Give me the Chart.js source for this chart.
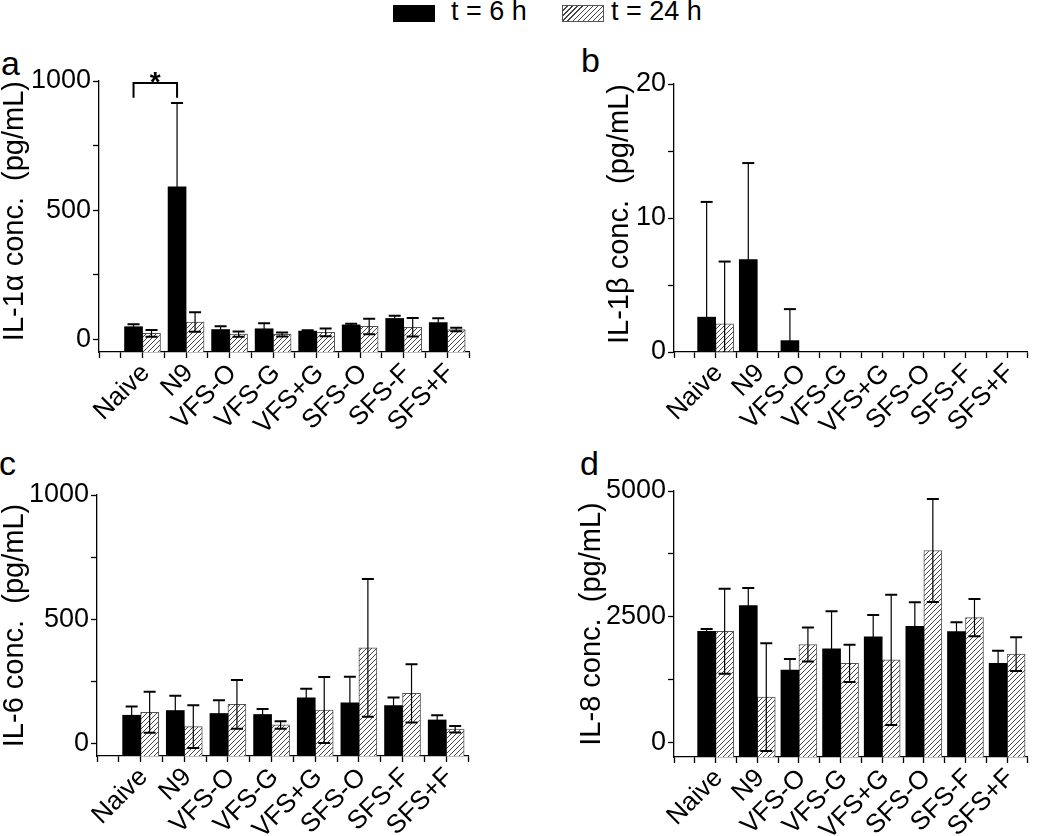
<!DOCTYPE html>
<html>
<head>
<meta charset="utf-8">
<script src="https://cdn.jsdelivr.net/npm/chart.js@4.4.1/dist/chart.umd.min.js"></script>
<style>
    body { margin: 0; background: #fff; width: 1050px; height: 836px; position: relative; overflow: hidden;
           font-family: "Liberation Sans", Arial, sans-serif; color: #000; }
    canvas { position: absolute; }
    .letra { position: absolute; font-size: 34px; line-height: 1; }
    .leg-txt { position: absolute; font-size: 27px; line-height: 1; white-space: pre; }
    .leg-box { position: absolute; width: 42px; height: 17px; box-sizing: border-box; }
</style>
</head>
<body>
<div class="leg-box" style="left:393px;top:5px;background:#000"></div>
<div class="leg-txt" style="left:451px;top:-2px">t = 6 h</div>
<div class="leg-box" style="left:562px;top:5px;border:1px solid #555;background:repeating-linear-gradient(135deg,#fff 0 2.6px,#444 2.6px 3.6px)"></div>
<div class="leg-txt" style="left:611px;top:-2px">t = 24 h</div>

<div class="letra" style="left:1px;top:46px">a</div>
<div class="letra" style="left:581px;top:43px">b</div>
<div class="letra" style="left:-1px;top:446px">c</div>
<div class="letra" style="left:580px;top:446px">d</div>

<canvas id="painelA" width="520" height="420" style="left:0;top:40px"></canvas>
<canvas id="painelB" width="530" height="420" style="left:520px;top:40px"></canvas>
<canvas id="painelC" width="520" height="376" style="left:0;top:460px"></canvas>
<canvas id="painelD" width="530" height="376" style="left:520px;top:460px"></canvas>

<script>
const categories = ['Naive', 'N9', 'VFS-O', 'VFS-G', 'VFS+G', 'SFS-O', 'SFS-F', 'SFS+F'];

// IL-1alpha
const il1a6h = [48, 590, 37, 40, 31, 55, 80, 64];
const il1a6hErr = [10, 325, 13, 21, 3, 4, 10, 17];
const il1a24h = [22, 66, 19, 18, 26, 49, 46, 37];
const il1a24hErr = [13, 38, 10, 8, 15, 30, 36, 7];
const il1aTicks = [0, 500, 1000];

// IL-1beta
const il1b6h = [2.6, 6.9, 0.85, 0, 0, 0, 0, 0];
const il1b6hErr = [8.6, 7.2, 2.35, 0, 0, 0, 0, 0];
const il1b24h = [2.1, 0, 0, 0, 0, 0, 0, 0];
const il1b24hErr = [4.65, 0, 0, 0, 0, 0, 0, 0];
const il1bTicks = [0, 10, 20];

// IL-6
const il6_6h = [114, 133, 121, 117, 184, 164, 153, 95];
const il6_6hErr = [35, 59, 53, 22, 37, 105, 32, 19];
const il6_24h = [126, 68, 158, 75, 135, 385, 202, 58];
const il6_24hErr = [82, 86, 98, 15, 133, 277, 117, 13];
const il6Ticks = [0, 500, 1000];

// IL-8
const il8_6h = [2216, 2724, 1445, 1867, 2104, 2315, 2210, 1577];
const il8_6hErr = [47, 350, 218, 745, 436, 475, 185, 251];
const il8_24h = [2216, 910, 1953, 1577, 1649, 3819, 2487, 1761];
const il8_24hErr = [845, 1070, 336, 370, 1293, 1023, 370, 336];
const il8Ticks = [0, 2500, 5000];

const FONTE = '"Liberation Sans", Arial, sans-serif';
Chart.defaults.font.family = FONTE;
Chart.defaults.color = '#000';

function hachura() {
    const c = document.createElement('canvas');
    c.width = 5; c.height = 5;
    const g = c.getContext('2d');
    g.fillStyle = '#fff';
    g.fillRect(0, 0, 5, 5);
    g.strokeStyle = '#444';
    g.lineWidth = 1;
    g.beginPath();
    g.moveTo(0, 5); g.lineTo(5, 0);
    g.moveTo(-1, 1); g.lineTo(1, -1);
    g.moveTo(4, 6); g.lineTo(6, 4);
    g.stroke();
    return g.createPattern(c, 'repeat');
}
const padrao = hachura();

// marcas maiores nos rótulos, menores no meio
function comMenores(rotulos) {
    const todos = [];
    rotulos.forEach((v, i) => {
        if (i > 0) todos.push((rotulos[i - 1] + v) / 2);
        todos.push(v);
    });
    return todos;
}

const barrasErro = {
    id: 'barrasErro',
    afterDatasetsDraw(chart) {
        const ctx = chart.ctx, y = chart.scales.y, area = chart.chartArea;
        chart.data.datasets.forEach((ds, di) => {
            const meta = chart.getDatasetMeta(di);
            meta.data.forEach((bar, i) => {
                const e = ds.errors[i];
                if (!e) return;
                const v = ds.data[i].y;
                const topo = y.getPixelForValue(v + e);
                let base = y.getPixelForValue(v - e);
                const cortado = base > area.bottom;
                if (cortado) base = area.bottom;
                ctx.save();
                ctx.strokeStyle = '#000';
                ctx.lineWidth = 1.2;
                ctx.beginPath();
                ctx.moveTo(bar.x, base);
                ctx.lineTo(bar.x, topo);
                ctx.stroke();
                ctx.lineWidth = 2;
                ctx.beginPath();
                ctx.moveTo(bar.x - 6, topo); ctx.lineTo(bar.x + 6, topo);
                if (!cortado) { ctx.moveTo(bar.x - 6, base); ctx.lineTo(bar.x + 6, base); }
                ctx.stroke();
                ctx.restore();
            });
        });
    }
};

// colchete com asterisco no painel a (Naive x N9, t = 6 h)
const colchete = {
    id: 'colchete',
    afterDraw(chart) {
        const ctx = chart.ctx, y = chart.scales.y;
        const barras = chart.getDatasetMeta(0).data;
        const x1 = barras[0].x, x2 = barras[1].x;
        const yTop = y.getPixelForValue(992), yPe = y.getPixelForValue(935);
        ctx.save();
        ctx.strokeStyle = '#000';
        ctx.lineWidth = 2;
        ctx.beginPath();
        ctx.moveTo(x1, yPe); ctx.lineTo(x1, yTop); ctx.lineTo(x2, yTop); ctx.lineTo(x2, yPe);
        ctx.stroke();
        ctx.fillStyle = '#000';
        ctx.font = 'bold 28px ' + FONTE;
        ctx.textAlign = 'center';
        ctx.textBaseline = 'alphabetic';
        ctx.fillText('*', (x1 + x2) / 2, yTop + 8);
        ctx.restore();
    }
};

function pontos(vals) {
    return vals.map((v, i) => ({ x: i + 1, y: v }));
}

function painel(id, p) {
    const marcasY = comMenores(p.ticks);
    new Chart(document.getElementById(id), {
        type: 'bar',
        data: {
            datasets: [
                { label: 't = 6 h', data: pontos(p.v6), errors: p.e6, base: p.min,
                  backgroundColor: '#000', borderColor: '#000', borderWidth: 0, barThickness: 18 },
                { label: 't = 24 h', data: pontos(p.v24), errors: p.e24, base: p.min,
                  backgroundColor: padrao, borderColor: '#555', borderWidth: 1, barThickness: 18 },
            ]
        },
        options: {
            responsive: false, animation: false,
            layout: { padding: p.pad },
            plugins: { legend: { display: false }, tooltip: { enabled: false } },
            scales: {
                x: {
                    type: 'linear', min: 0, max: 8.5, offset: false,
                    grid: { offset: false, drawOnChartArea: false, tickLength: 6, tickColor: '#000', tickWidth: 1.3 },
                    border: { display: true, color: '#000', width: 1.3 },
                    ticks: {
                        stepSize: 0.5, autoSkip: false, minRotation: 45, maxRotation: 45,
                        font: { size: 26 }, color: '#000', padding: 0, labelOffset: 3,
                        callback: v => (Number.isInteger(v) && v >= 1) ? categories[v - 1] : ''
                    },
                    afterFit: s => { s.height = p.xH; }
                },
                y: {
                    min: p.min, max: p.max,
                    grid: { drawOnChartArea: false, tickLength: 6, tickColor: '#000', tickWidth: 1.3 },
                    border: { display: true, color: '#000', width: 1.3 },
                    ticks: {
                        font: { size: 27 }, color: '#000', padding: 2,
                        callback: v => p.ticks.includes(v) ? v : ''
                    },
                    afterBuildTicks: s => { s.ticks = marcasY.map(v => ({ value: v })); },
                    title: { display: true, text: p.titulo, align: p.alinha, font: { size: 29, lineHeight: 1 }, color: '#000', padding: 0 },
                    afterFit: s => { s.width = p.yW; }
                }
            }
        },
        plugins: p.extra ? [barrasErro, p.extra] : [barrasErro]
    });
}

painel('painelA', {
    v6: il1a6h, e6: il1a6hErr, v24: il1a24h, e24: il1a24hErr, ticks: il1aTicks,
    min: -50, max: 1000, titulo: 'IL-1\u03b1 conc.  (pg/mL)', alinha: 'end',
    pad: { left: 0, top: 41, right: 51, bottom: 0 }, yW: 99, xH: 108, extra: colchete
});
painel('painelB', {
    v6: il1b6h, e6: il1b6hErr, v24: il1b24h, e24: il1b24hErr, ticks: il1bTicks,
    min: 0, max: 20, titulo: 'IL-1\u03b2 conc.  (pg/mL)', alinha: 'end',
    pad: { left: 85, top: 44, right: 10, bottom: 0 }, yW: 69, xH: 108
});
painel('painelC', {
    v6: il6_6h, e6: il6_6hErr, v24: il6_24h, e24: il6_24hErr, ticks: il6Ticks,
    min: -50, max: 1000, titulo: 'IL-6 conc.  (pg/mL)', alinha: 'center',
    pad: { left: 0, top: 35, right: 52, bottom: 0 }, yW: 97, xH: 80
});
painel('painelD', {
    v6: il8_6h, e6: il8_6hErr, v24: il8_24h, e24: il8_24hErr, ticks: il8Ticks,
    min: -280, max: 5000, titulo: 'IL-8 conc.  (pg/mL)', alinha: 'center',
    pad: { left: 57, top: 31, right: 8, bottom: 0 }, yW: 97, xH: 79
});
</script>
</body>
</html>
